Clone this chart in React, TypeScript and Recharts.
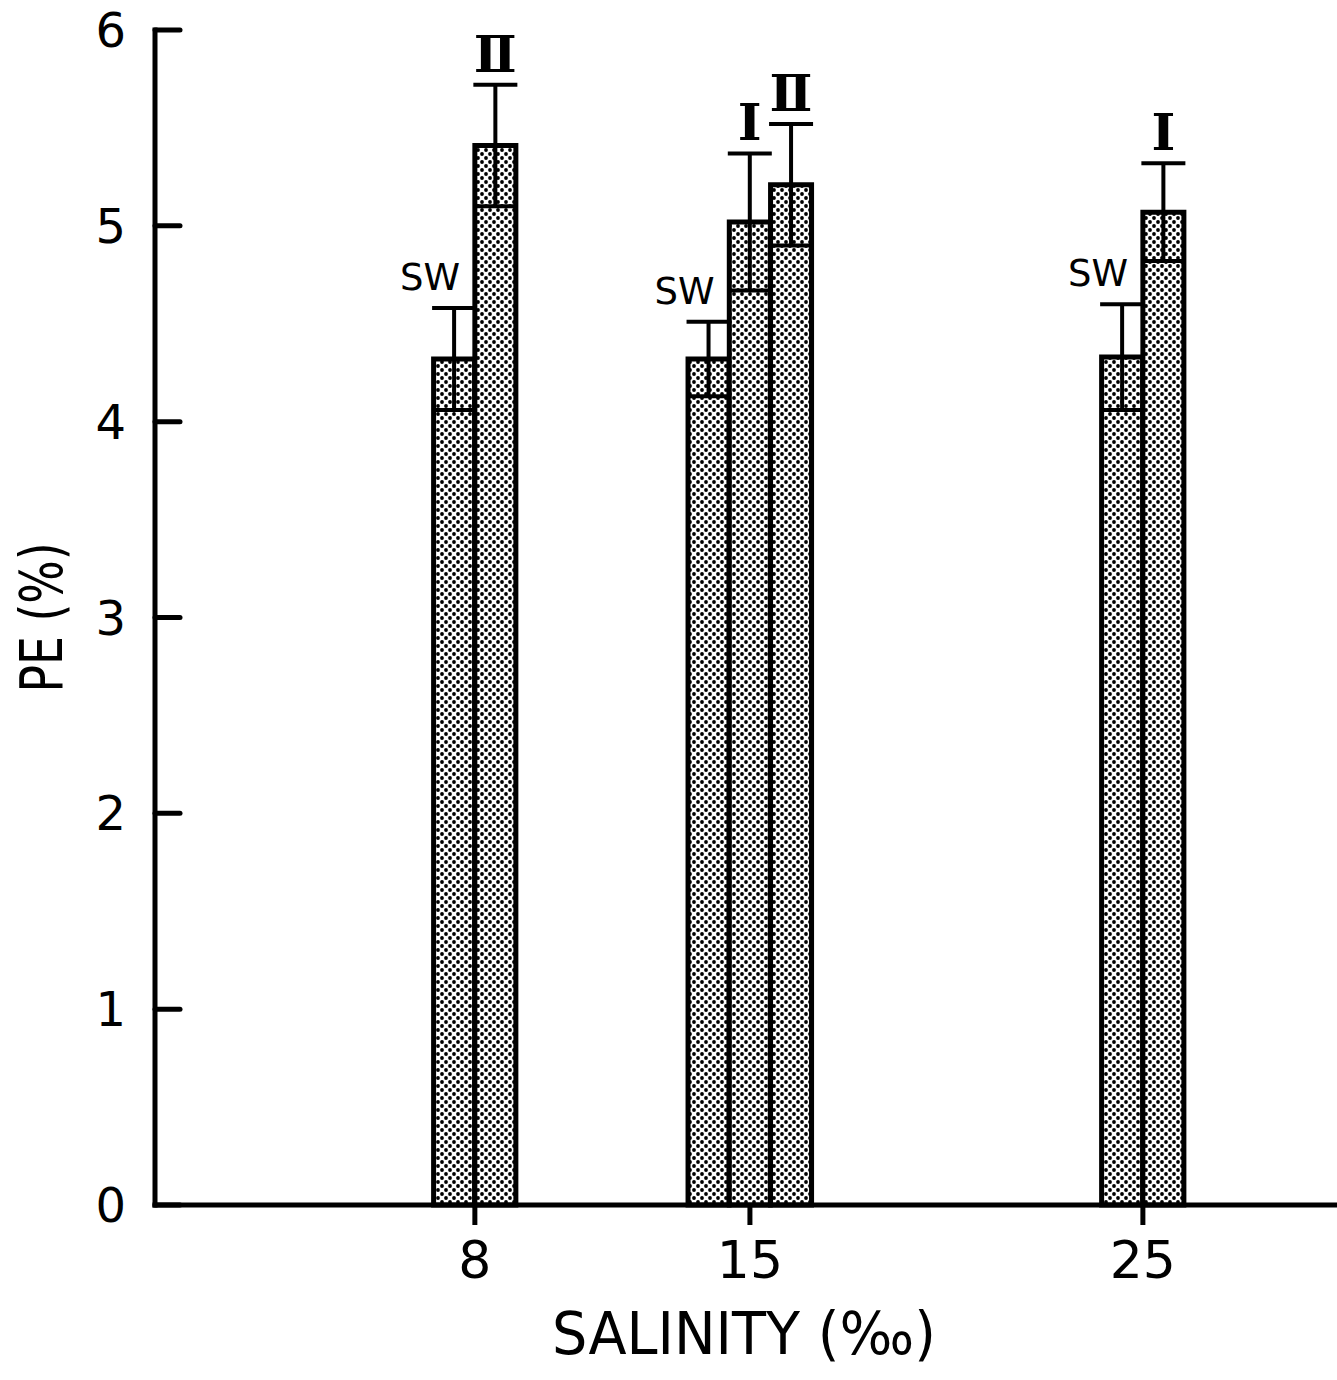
import { ComposedChart, Bar, XAxis, YAxis, ErrorBar, LabelList } from 'recharts';

const salinities = [8, 15, 25];
const treatments = ['SW', 'Ⅰ', 'Ⅱ'];
const swMean = [4.32, 4.32, 4.33];
const swErr = [0.26, 0.19, 0.27];
const iMean = [null, 5.02, 5.07];
const iErr = [null, 0.35, 0.25];
const iiMean = [5.41, 5.21, null];
const iiErr = [0.31, 0.31, null];
const xTicks = [8, 15, 25];
const yTicks = [0, 1, 2, 3, 4, 5, 6];

// width of one bar, in salinity units; bars of a group sit side by side around the tick
const BAR_STEP = 1.05;
const FONT = '"DejaVu Sans", sans-serif';
const SERIF = '"DejaVu Serif", serif';

const series = [
  { name: treatments[0], mean: swMean, err: swErr },
  { name: treatments[1], mean: iMean, err: iErr },
  { name: treatments[2], mean: iiMean, err: iiErr },
];

const rows = salinities.flatMap((s, i) => {
  const present = series.filter((ser) => ser.mean[i] != null);
  return present.map((ser, slot) => ({
    salinity: s + (slot - (present.length - 1) / 2) * BAR_STEP,
    pe: ser.mean[i] as number,
    err: ser.err[i] as number,
    name: ser.name,
  }));
});

function TreatmentLabel(props: any) {
  const vb = props.viewBox ?? props;
  const row = rows[props.index];
  if (!row || vb == null) return null;
  const h = Math.abs(vb.height);
  const top = vb.height >= 0 ? vb.y : vb.y + vb.height;
  const cx = vb.x + vb.width / 2;
  const errTop = top - (row.err * h) / row.pe;
  if (row.name === 'SW') {
    return (
      <text x={cx + 6} y={errTop - 18} textAnchor="end" fontSize={37} fontFamily={FONT} fill="#000">
        SW
      </text>
    );
  }
  return (
    <text x={cx} y={errTop - 13} textAnchor="middle" fontSize={51} fontWeight="bold" fontFamily={SERIF} fill="#000">
      {row.name}
    </text>
  );
}

function YTick(props: any) {
  const { x, y, payload } = props;
  return (
    <g>
      <line x1={x} x2={x + 25} y1={y} y2={y} stroke="#000" strokeWidth={5} strokeLinecap="round" />
      <text x={x - 29} y={y + 17} textAnchor="end" fontSize={48} fontFamily={FONT} fill="#000">
        {payload.value}
      </text>
    </g>
  );
}

function XTick(props: any) {
  const { x, y, payload } = props;
  return (
    <text x={x} y={y + 53} textAnchor="middle" fontSize={52} fontFamily={FONT} fill="#000">
      {payload.value}
    </text>
  );
}

function YTitle(props: any) {
  const vb = props.viewBox;
  return (
    <text
      transform={`translate(${vb.x + 62}, ${vb.y + vb.height / 2}) rotate(-90)`}
      textAnchor="middle"
      fontSize={58}
      fontFamily={FONT}
      textLength={150}
      lengthAdjust="spacingAndGlyphs"
      fill="#000"
    >
      PE (%)
    </text>
  );
}

function XTitle(props: any) {
  const vb = props.viewBox;
  return (
    <text
      x={vb.x + vb.width / 2 - 2}
      y={vb.y + 149}
      textAnchor="middle"
      fontSize={58}
      fontFamily={FONT}
      textLength={384}
      lengthAdjust="spacingAndGlyphs"
      fill="#000"
    >
      SALINITY (‰)
    </text>
  );
}

export default function App() {
  return (
    <div style={{ position: 'absolute', left: 0, top: 0, width: 1337, height: 1380, background: '#fff' }}>
      <ComposedChart width={1337} height={1380} data={rows} margin={{ top: 30, right: 0, bottom: 0, left: 0 }}>
        <defs>
          <pattern id="dots" width="8" height="8" patternUnits="userSpaceOnUse">
            <rect width="8" height="8" fill="#fff" />
            <circle cx="2" cy="2" r="1.9" fill="#000" />
            <circle cx="6" cy="6" r="1.9" fill="#000" />
          </pattern>
        </defs>
        <XAxis
          type="number"
          dataKey="salinity"
          domain={[-0.14, 29.94]}
          allowDataOverflow
          ticks={xTicks}
          interval={0}
          height={175}
          axisLine={{ stroke: '#000', strokeWidth: 5, strokeLinecap: 'square' }}
          tickLine={{ stroke: '#000', strokeWidth: 5 }}
          tickSize={20}
          tickMargin={0}
          tick={<XTick />}
          label={{ content: XTitle }}
        />
        <YAxis
          type="number"
          domain={[0, 6]}
          ticks={yTicks}
          interval={0}
          width={155}
          axisLine={{ stroke: '#000', strokeWidth: 5, strokeLinecap: 'square' }}
          tickLine={false}
          tickSize={0}
          tickMargin={0}
          tick={<YTick />}
          label={{ content: YTitle }}
        />
        <Bar dataKey="pe" barSize={41} fill="url(#dots)" stroke="#000" strokeWidth={5} isAnimationActive={false}>
          <ErrorBar dataKey="err" width={22} stroke="#000" strokeWidth={4} direction="y" />
          <LabelList dataKey="name" content={TreatmentLabel} />
        </Bar>
      </ComposedChart>
    </div>
  );
}
